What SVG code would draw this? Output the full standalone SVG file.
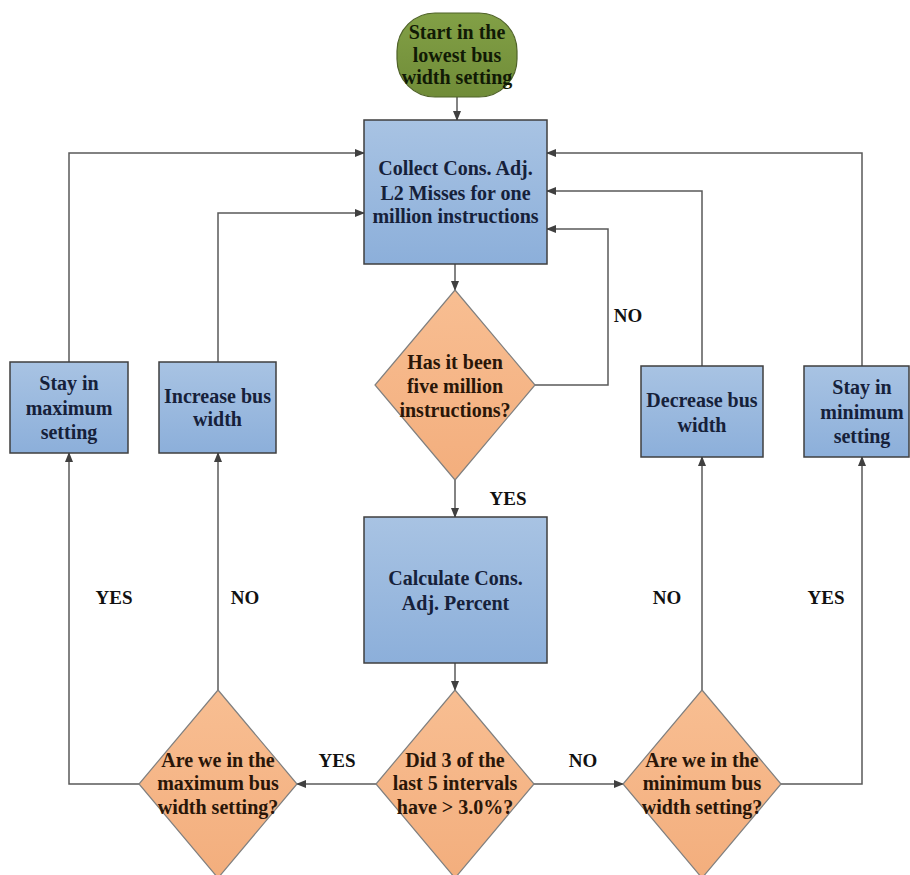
<svg xmlns="http://www.w3.org/2000/svg" width="910" height="875" viewBox="0 0 910 875">
<defs>
<linearGradient id="gBox" x1="0" y1="0" x2="0" y2="1"><stop offset="0" stop-color="#A8C3E3"/><stop offset="1" stop-color="#8CAFDA"/></linearGradient>
<linearGradient id="gDia" x1="0" y1="0" x2="0" y2="1"><stop offset="0" stop-color="#F8BE92"/><stop offset="1" stop-color="#F3AE7D"/></linearGradient>
<linearGradient id="gStart" x1="0" y1="0" x2="0" y2="1"><stop offset="0" stop-color="#82A046"/><stop offset="1" stop-color="#708C38"/></linearGradient>
<marker id="arr" markerWidth="10" markerHeight="10" refX="9" refY="5" orient="auto" markerUnits="userSpaceOnUse">
<path d="M0,1 L10,5 L0,9 Z" fill="#404040"/>
</marker>
<style>
.box{fill:url(#gBox);stroke:#3F3F3F;stroke-width:1.5}
.dia{fill:url(#gDia);stroke:#7F7F7F;stroke-width:1.2}
.start{fill:url(#gStart);stroke:#4F6228;stroke-width:1.2}
.t{font-family:"Liberation Serif","Times New Roman",serif;font-weight:bold;font-size:20px;text-anchor:middle}
.tb{fill:#16213A}
.td{fill:#2A1608}
.ts{fill:#111A05}
.lbl{font-family:"Liberation Serif","Times New Roman",serif;font-weight:bold;font-size:19px;text-anchor:middle;fill:#111}
.c{fill:none;stroke:#5A5A5A;stroke-width:1.5}
</style>
</defs>
<rect width="910" height="875" fill="#FFFFFF"/>

<g id="connectors">
<path class="c" d="M457,97 L457,120" marker-end="url(#arr)"/>
<path class="c" d="M455,264 L455,290" marker-end="url(#arr)"/>
<path class="c" d="M535,385 L608,385 L608,229 L547,229" marker-end="url(#arr)"/>
<path class="c" d="M455,480 L455,517" marker-end="url(#arr)"/>
<path class="c" d="M455,663 L455,690" marker-end="url(#arr)"/>
<path class="c" d="M376,784 L297,784" marker-end="url(#arr)"/>
<path class="c" d="M534,784 L623,784" marker-end="url(#arr)"/>
<path class="c" d="M218,690 L218,453" marker-end="url(#arr)"/>
<path class="c" d="M139,784 L69,784 L69,453" marker-end="url(#arr)"/>
<path class="c" d="M702,690 L702,457" marker-end="url(#arr)"/>
<path class="c" d="M781,784 L862,784 L862,457" marker-end="url(#arr)"/>
<path class="c" d="M69,362 L69,153 L364,153" marker-end="url(#arr)"/>
<path class="c" d="M218,362 L218,213 L364,213" marker-end="url(#arr)"/>
<path class="c" d="M702,366 L702,191 L547,191" marker-end="url(#arr)"/>
<path class="c" d="M862,366 L862,153 L547,153" marker-end="url(#arr)"/>
<text class="lbl" x="628" y="322">NO</text>
<text class="lbl" x="508" y="505">YES</text>
<text class="lbl" x="337" y="767">YES</text>
<text class="lbl" x="583" y="767">NO</text>
<text class="lbl" x="114" y="604">YES</text>
<text class="lbl" x="245" y="604">NO</text>
<text class="lbl" x="667" y="604">NO</text>
<text class="lbl" x="826" y="604">YES</text>
</g>

<g id="start">
<rect class="start" x="397" y="13" width="120" height="84" rx="38" ry="38"/>
<text class="t ts" x="457" y="39">Start in the</text>
<text class="t ts" x="457" y="62">lowest bus</text>
<text class="t ts" x="457" y="84">width setting</text>
</g>

<g id="collect">
<rect class="box" x="364" y="120" width="183" height="144"/>
<text class="t tb" x="455.5" y="175">Collect Cons. Adj.</text>
<text class="t tb" x="455.5" y="200">L2 Misses for one</text>
<text class="t tb" x="455.5" y="223">million instructions</text>
</g>

<g id="five-million">
<polygon class="dia" points="455,290 535,385 455,480 375,385"/>
<text class="t td" x="455" y="369">Has it been</text>
<text class="t td" x="455" y="393">five million</text>
<text class="t td" x="455" y="417">instructions?</text>
</g>

<g id="calculate">
<rect class="box" x="364" y="517" width="183" height="146"/>
<text class="t tb" x="455.5" y="585">Calculate Cons.</text>
<text class="t tb" x="455.5" y="610">Adj. Percent</text>
</g>

<g id="did3of5">
<polygon class="dia" points="455,690 534,784 455,878 376,784"/>
<text class="t td" x="455" y="767">Did 3 of the</text>
<text class="t td" x="455" y="790">last 5 intervals</text>
<text class="t td" x="455" y="814">have &gt; 3.0%?</text>
</g>

<g id="max-check">
<polygon class="dia" points="218,690 297,784 218,878 139,784"/>
<text class="t td" x="218" y="767">Are we in the</text>
<text class="t td" x="218" y="790">maximum bus</text>
<text class="t td" x="218" y="814">width setting?</text>
</g>

<g id="min-check">
<polygon class="dia" points="702,690 781,784 702,878 623,784"/>
<text class="t td" x="702" y="767">Are we in the</text>
<text class="t td" x="702" y="790">minimum bus</text>
<text class="t td" x="702" y="814">width setting?</text>
</g>

<g id="stay-max">
<rect class="box" x="10" y="362" width="118" height="91"/>
<text class="t tb" x="69" y="390">Stay in</text>
<text class="t tb" x="69" y="415">maximum</text>
<text class="t tb" x="69" y="439">setting</text>
</g>

<g id="increase">
<rect class="box" x="159" y="362" width="117" height="91"/>
<text class="t tb" x="217.5" y="403">Increase bus</text>
<text class="t tb" x="217.5" y="426">width</text>
</g>

<g id="decrease">
<rect class="box" x="641" y="366" width="122" height="91"/>
<text class="t tb" x="702" y="407">Decrease bus</text>
<text class="t tb" x="702" y="432">width</text>
</g>

<g id="stay-min">
<rect class="box" x="804" y="366" width="105" height="91"/>
<text class="t tb" x="862" y="394">Stay in</text>
<text class="t tb" x="862" y="419">minimum</text>
<text class="t tb" x="862" y="443">setting</text>
</g>
</svg>
